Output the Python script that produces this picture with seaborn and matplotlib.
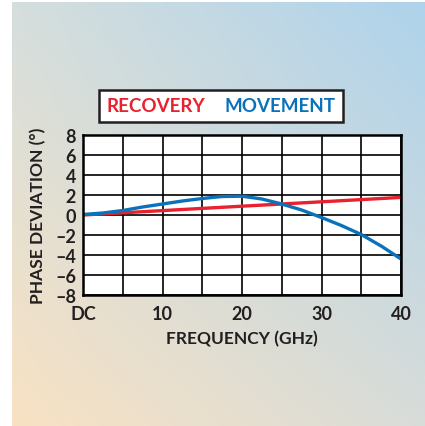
import numpy as np
import pandas as pd
import seaborn as sns
import matplotlib.pyplot as plt
from matplotlib.lines import Line2D

freq = [0, 2.5, 5, 7.5, 10, 12.5, 15, 17.5, 20, 22.5, 25, 27.5, 30, 32.5, 35, 37.5, 40]
recovery = [0.0, 0.11, 0.22, 0.33, 0.44, 0.55, 0.66, 0.77, 0.88, 0.99, 1.1, 1.21, 1.32, 1.43, 1.54, 1.65, 1.76]
movement = [0.05, 0.2, 0.45, 0.8, 1.1, 1.4, 1.65, 1.85, 1.88, 1.6, 1.1, 0.5, -0.25, -1.05, -1.95, -3.1, -4.4]
xticks = [0, 10, 20, 30, 40]
xticklabels = ['DC', '10', '20', '30', '40']
yticks = [-8, -6, -4, -2, 0, 2, 4, 6, 8]

red = '#e8212e'
blue = '#0a72ba'
ink = '#231f20'

df = pd.DataFrame({'Frequency': freq * 2,
                   'Phase': recovery + movement,
                   'Series': ['RECOVERY'] * len(freq) + ['MOVEMENT'] * len(freq)})

sns.set_style('ticks')
plt.rcParams['font.family'] = ['Lato', 'DejaVu Sans']
fig = plt.figure(figsize=(4.25, 4.27), dpi=100)

# gradient background
bg = fig.add_axes([12 / 425, 0, 1 - 12 / 425, 1 - 3 / 427])
tl = np.array([0.835, 0.871, 0.867])
tr = np.array([0.682, 0.827, 0.925])
bl = np.array([0.976, 0.886, 0.765])
br = np.array([0.847, 0.863, 0.851])
u = np.linspace(0, 1, 200)[None, :, None]
v = np.linspace(0, 1, 200)[:, None, None]
img = (1 - v) * ((1 - u) * tl + u * tr) + v * ((1 - u) * bl + u * br)
bg.imshow(img, aspect='auto', extent=[0, 1, 0, 1])
bg.axis('off')

ax = fig.add_axes([83 / 425, 1 - 296 / 427, (401 - 83) / 425, (296 - 136) / 427])
ax.set_facecolor('white')
sns.lineplot(data=df, x='Frequency', y='Phase', hue='Series',
             palette={'RECOVERY': red, 'MOVEMENT': blue},
             hue_order=['RECOVERY', 'MOVEMENT'], linewidth=2.4, ax=ax, legend=False, zorder=3)
for line in ax.get_lines():
    if line.get_color() == blue:
        line.set_zorder(4)

ax.set_xlim(0, 40)
ax.set_ylim(-8, 8)
ax.set_xticks(xticks)
ax.set_xticks(np.arange(5, 40, 10), minor=True)
ax.set_xticklabels(xticklabels)
ax.set_yticks(yticks)
ax.set_yticklabels([str(t).replace('-', '\u2013') for t in yticks])
ax.grid(True, which='both', color='black', linewidth=1.2)
ax.tick_params(which='both', length=0, labelsize=13)
ax.tick_params(axis='x', pad=7)
ax.tick_params(axis='y', pad=5)
for lab in ax.get_xticklabels() + ax.get_yticklabels():
    lab.set_fontweight('bold')
    lab.set_color(ink)
for s in ax.spines.values():
    s.set_linewidth(1.8)
    s.set_color('black')
    s.set_zorder(5)
ax.set_xlabel('FREQUENCY (GHz)', fontsize=12.5, fontweight='bold', color=ink, labelpad=6)
ax.set_ylabel('PHASE DEVIATION (\u00b0)', fontsize=12.5, fontweight='bold', color=ink, labelpad=6)

handles = [Line2D([], [], color=red, linewidth=0), Line2D([], [], color=blue, linewidth=0)]
leg = fig.legend(handles, ['RECOVERY', 'MOVEMENT'], ncol=2, handlelength=0, handletextpad=0,
                 columnspacing=1.0, fancybox=False, framealpha=1, edgecolor=ink,
                 loc='center', bbox_to_anchor=(221 / 425, 1 - 107 / 427),
                 prop={'weight': 'bold', 'size': 13.5}, borderpad=0.4)
leg.get_frame().set_linewidth(1.8)
for t, c in zip(leg.get_texts(), [red, blue]):
    t.set_color(c)

fig.savefig('out.png', dpi=100)
